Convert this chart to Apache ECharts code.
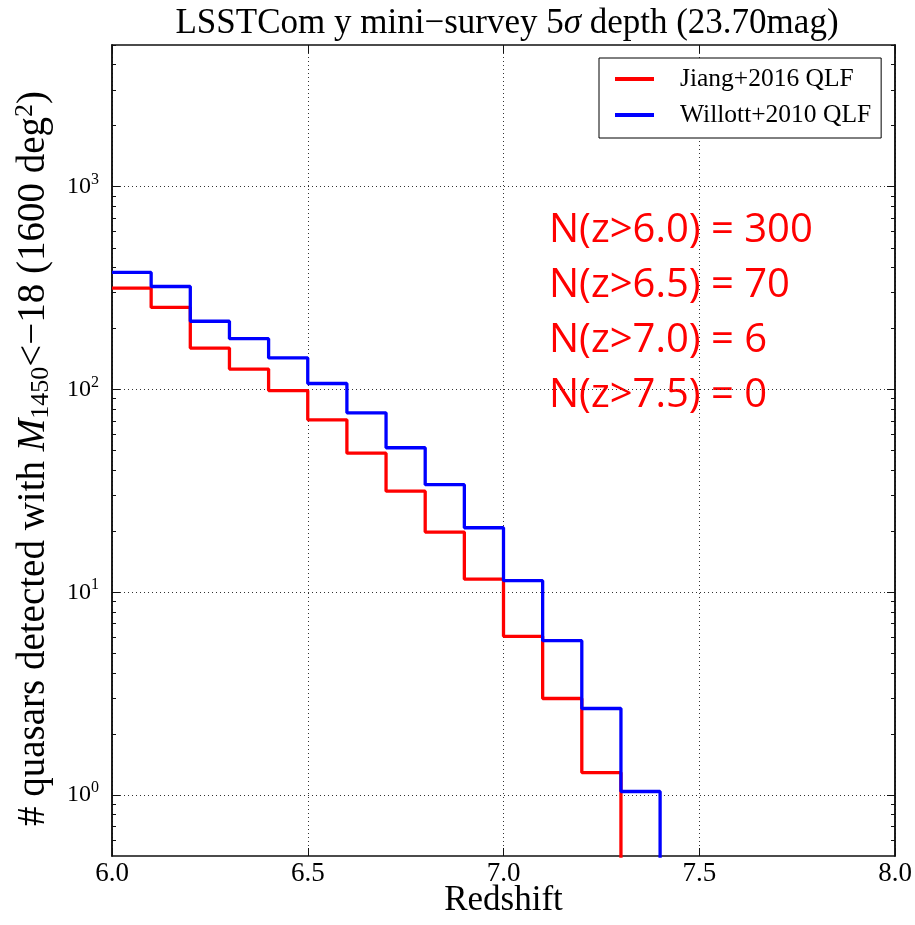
<!DOCTYPE html>
<html>
<head>
<meta charset="utf-8">
<script src="https://cdn.jsdelivr.net/npm/echarts@6/dist/echarts.min.js"></script>
<style>
  html, body { margin: 0; padding: 0; background: #fff; }
  #main { width: 915px; height: 925px; }
</style>
</head>
<body>
<div id="main"></div>
<script>
// bin left edges (redshift), last edge closes the histogram
var zBins = [6.0, 6.1, 6.2, 6.3, 6.4, 6.5, 6.6, 6.7, 6.8, 6.9, 7.0, 7.1, 7.2, 7.3, 7.4, 7.5, 7.6, 7.7, 7.8, 7.9];
var zEnd = 8.0;
var jiang = [316, 254, 160, 126, 98.8, 70.8, 48.5, 31.5, 19.8, 11.6, 6.06, 2.99, 1.29, 0, 0, 0, 0, 0, 0, 0];
var willott = [378, 322, 217, 178, 143, 107, 76.7, 51.6, 33.9, 20.8, 11.4, 5.77, 2.67, 1.04, 0, 0, 0, 0, 0, 0];
var seriesNames = ['Jiang+2016 QLF', 'Willott+2010 QLF'];
var yMajor = [1, 10, 100, 1000];
var yMinor = [0.6, 0.7, 0.8, 0.9, 2, 3, 4, 5, 6, 7, 8, 9, 20, 30, 40, 50, 60, 70, 80, 90,
              200, 300, 400, 500, 600, 700, 800, 900, 2000, 3000, 4000, 5000];
var notes = ['N(z>6.0) = 300', 'N(z>6.5) = 70', 'N(z>7.0) = 6', 'N(z>7.5) = 0'];

var SERIF = 'Liberation Serif';
var FLOOR = 1e-3; // empty bins fall below the log axis and get clipped

function stepData(vals) {
  var d = zBins.map(function (z, i) { return [z, vals[i] > 0 ? vals[i] : FLOOR]; });
  var last = vals[vals.length - 1];
  d.push([zEnd, last > 0 ? last : FLOOR]);
  return d;
}

var chart = echarts.init(document.getElementById('main'));

var gridLine = { show: true, lineStyle: { color: '#333', type: [1, 3], width: 1 } };
var frame = { show: true, onZero: false, lineStyle: { color: '#111', width: 1.5 } };

function yAxisDef(pos, ticks, len, withLabels, withSplit) {
  return {
    type: 'log', logBase: 10, min: 0.5, max: 5000, position: pos,
    axisLine: frame,
    axisTick: { show: true, inside: true, length: len, customValues: ticks, lineStyle: { color: '#111', width: 1 } },
    axisLabel: withLabels ? {
      show: true, customValues: ticks, margin: 13,
      formatter: function (v) { return '{b|10}{s|' + Math.round(Math.log10(v)) + '}'; },
      rich: {
        b: { fontFamily: SERIF, fontSize: 24, color: '#000', lineHeight: 30 },
        s: { fontFamily: SERIF, fontSize: 16, color: '#000', verticalAlign: 'top', lineHeight: 30, padding: [0, 0, 12, 0] }
      }
    } : { show: false },
    splitLine: withSplit ? gridLine : { show: false },
    name: withLabels ? '{t|# quasars detected with }{i|M}{sub|1450}{t|<\u221218 (1600 deg}{sup|2}{t|)}' : '',
    nameLocation: 'middle', nameRotate: 90, nameGap: 56,
    nameTextStyle: {
      padding: [0, 16, 0, 0],
      rich: {
        t: { fontFamily: SERIF, fontSize: 39, color: '#000', lineHeight: 44 },
        i: { fontFamily: SERIF, fontSize: 39, color: '#000', fontStyle: 'italic', lineHeight: 44 },
        sub: { fontFamily: SERIF, fontSize: 26, color: '#000', lineHeight: 44, padding: [14, 0, 0, 0] },
        sup: { fontFamily: SERIF, fontSize: 26, color: '#000', lineHeight: 44, padding: [0, 0, 18, 0] }
      }
    }
  };
}

var option = {
  backgroundColor: '#fff',
  animation: false,
  title: {
    text: 'LSSTCom y mini\u2212survey 5{i|\u03c3} depth (23.70mag)',
    left: 502, top: 1, textAlign: 'center',
    textStyle: {
      fontFamily: SERIF, fontSize: 35, fontWeight: 'normal', color: '#000',
      rich: { i: { fontFamily: SERIF, fontSize: 35, fontStyle: 'italic', color: '#000' } }
    }
  },
  legend: {
    data: seriesNames,
    orient: 'vertical',
    left: 599, top: 58,
    padding: [8, 10, 10, 16],
    itemGap: 10,
    itemWidth: 39, itemHeight: 4,
    icon: 'rect',
    borderColor: '#000', borderWidth: 1, borderRadius: 0,
    backgroundColor: '#fff',
    textStyle: { fontFamily: SERIF, fontSize: 25.5, color: '#000', lineHeight: 24, padding: [0, 0, 0, 21] }
  },
  grid: { left: 112, right: 20, top: 45, bottom: 69, containLabel: false, outerBoundsMode: 'none' },
  xAxis: [{
    type: 'value', min: 6.0, max: 8.0, interval: 0.5, position: 'bottom',
    axisLine: frame,
    axisTick: { show: true, inside: true, length: 8, lineStyle: { color: '#111', width: 1 } },
    axisLabel: { fontFamily: SERIF, fontSize: 27, color: '#000', margin: 4,
      formatter: function (v) { return v.toFixed(1); } },
    splitLine: gridLine,
    name: 'Redshift', nameLocation: 'middle', nameGap: 27, nameMoveOverlap: false,
    nameTextStyle: { fontFamily: SERIF, fontSize: 35, color: '#000', verticalAlign: 'top' }
  }, {
    type: 'value', min: 6.0, max: 8.0, interval: 0.5, position: 'top',
    axisLine: frame,
    axisTick: { show: true, inside: true, length: 8, lineStyle: { color: '#111', width: 1 } },
    axisLabel: { show: false }, splitLine: { show: false }
  }],
  yAxis: [
    yAxisDef('left', yMajor, 8, true, true),
    yAxisDef('left', yMinor, 4, false, false),
    yAxisDef('right', yMajor, 8, false, false),
    yAxisDef('right', yMinor, 4, false, false)
  ],
  graphic: [{
    type: 'text', left: 549, top: 203,
    style: {
      text: notes.join('\n'),
      fill: '#ff0000', font: '40px "Open Sans"', lineHeight: 55
    }
  }],
  series: [{
    name: seriesNames[0], type: 'line', step: 'end', showSymbol: false, clip: true,
    xAxisIndex: 0, yAxisIndex: 0,
    lineStyle: { color: '#ff0000', width: 3.3 }, itemStyle: { color: '#ff0000' },
    data: stepData(jiang)
  }, {
    name: seriesNames[1], type: 'line', step: 'end', showSymbol: false, clip: true,
    xAxisIndex: 0, yAxisIndex: 0,
    lineStyle: { color: '#0000ff', width: 3.3 }, itemStyle: { color: '#0000ff' },
    data: stepData(willott)
  }]
};

chart.setOption(option);
window.addEventListener('resize', function () { chart.resize(); });
</script>
</body>
</html>
